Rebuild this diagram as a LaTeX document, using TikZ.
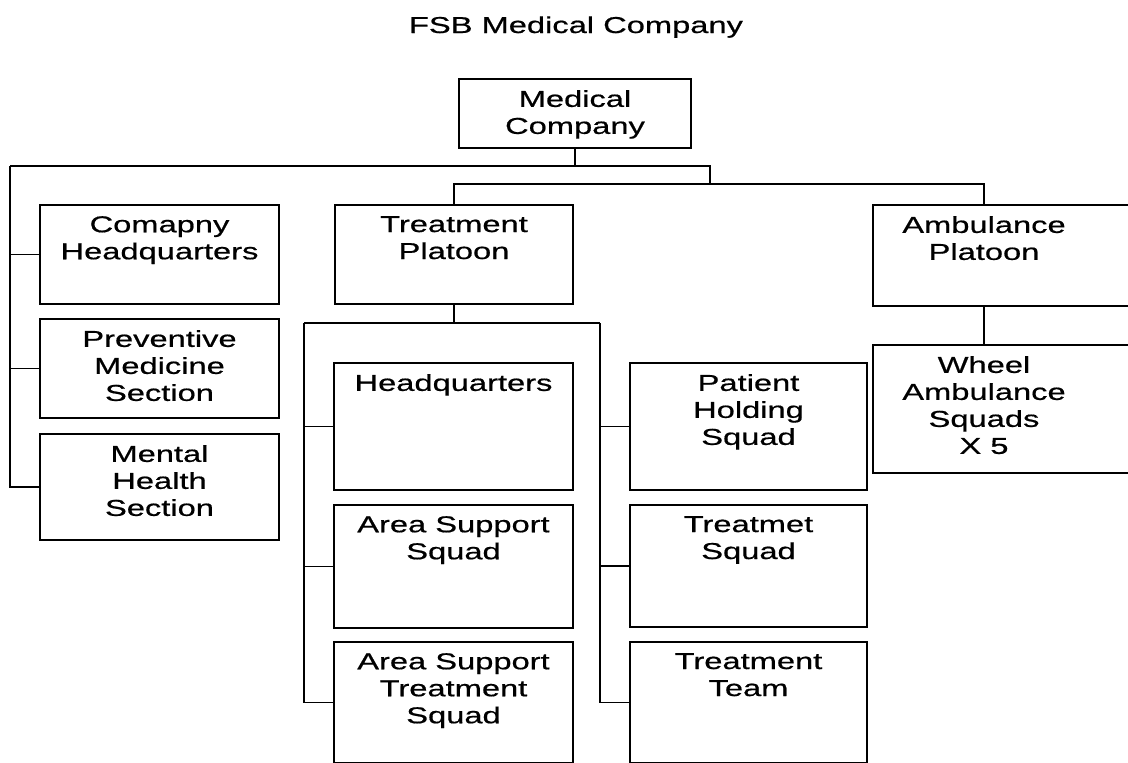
\documentclass[tikz,border=0pt]{standalone}
\usepackage{fontspec}
\setmainfont{Liberation Sans}[FakeStretch=1.42, FakeBold=0.6]
\begin{document}
\begin{tikzpicture}[x=1pt,y=-1pt,
  orgbox/.style={draw=black, line width=2pt, rectangle, inner sep=0pt, anchor=north west},
  orgtext/.style={anchor=north, inner sep=0pt, align=center, font=\fontsize{23}{27}\selectfont},
  link/.style={draw=black, line width=1.6pt}]
\fill[white] (0,0) rectangle (1128,763);
\useasboundingbox (0,0) rectangle (1128,763);

% title
\node[font=\fontsize{23}{27}\selectfont, anchor=base, inner sep=0pt] (title) at (576,33) {FSB Medical Company};

% top level
\node[orgbox, minimum width=232pt, minimum height=69pt] (mc) at (458,78) {};
\node[orgtext] (mc-t) at ([yshift=-12pt]mc.north) {Medical\\Company};

% company sections on the left
\node[orgbox, minimum width=239pt, minimum height=99pt] (chq) at (39,204) {};
\node[orgtext] (chq-t) at ([yshift=-12pt]chq.north) {Comapny\\Headquarters};
\node[orgbox, minimum width=239pt, minimum height=99pt] (pms) at (39,318) {};
\node[orgtext] (pms-t) at ([yshift=-12pt]pms.north) {Preventive\\Medicine\\Section};
\node[orgbox, minimum width=239pt, minimum height=106pt] (mhs) at (39,433) {};
\node[orgtext] (mhs-t) at ([yshift=-12pt]mhs.north) {Mental\\Health\\Section};

% platoons
\node[orgbox, minimum width=238pt, minimum height=99pt] (tp) at (334,204) {};
\node[orgtext] (tp-t) at ([yshift=-12pt]tp.north) {Treatment\\Platoon};
\node[orgbox, minimum width=268pt, minimum height=101pt] (ap) at (872,204) {};
\node[orgbox, minimum width=268pt, minimum height=128pt] (wa) at (872,344) {};
\coordinate (apin) at (984,204);
\coordinate (wain) at (984,344);
\node[orgtext] (ap-t) at ([yshift=-12pt]apin) {Ambulance\\Platoon};
\node[orgtext] (wa-t) at ([yshift=-12pt]wain) {Wheel\\Ambulance\\Squads\\X 5};

% treatment platoon squads
\node[orgbox, minimum width=239pt, minimum height=127pt] (hq) at (333,362) {};
\node[orgtext] (hq-t) at ([yshift=-12pt]hq.north) {Headquarters};
\node[orgbox, minimum width=239pt, minimum height=123pt] (ass) at (333,504) {};
\node[orgtext] (ass-t) at ([yshift=-12pt]ass.north) {Area Support\\Squad};
\node[orgbox, minimum width=239pt, minimum height=121pt] (asts) at (333,641) {};
\node[orgtext] (asts-t) at ([yshift=-12pt]asts.north) {Area Support\\Treatment\\Squad};
\node[orgbox, minimum width=237pt, minimum height=127pt] (phs) at (629,362) {};
\node[orgtext] (phs-t) at ([yshift=-12pt]phs.north) {Patient\\Holding\\Squad};
\node[orgbox, minimum width=237pt, minimum height=122pt] (ts) at (629,504) {};
\node[orgtext] (ts-t) at ([yshift=-12pt]ts.north) {Treatmet\\Squad};
\node[orgbox, minimum width=237pt, minimum height=121pt] (tt) at (629,641) {};
\node[orgtext] (tt-t) at ([yshift=-12pt]tt.north) {Treatment\\Team};

% connector bends
\coordinate (lbus) at (10,166);
\coordinate (rbend) at (710,166);
\coordinate (tbus) at (710,184);
\coordinate (tl) at (304,323);
\coordinate (tr) at (600,323);

% company level connectors
\draw[link] (mc.south) -- (mc.south |- lbus);
\draw[link] (lbus) -- (rbend) -- (tbus);
\draw[link] (lbus) |- (chq.west);
\draw[link] (lbus) |- (pms.west);
\draw[link] (lbus) |- (mhs.west);
\draw[link] (tbus) -| (tp.north);
\draw[link] (tbus) -| (apin);
\draw[link] (ap.south -| apin) -- (wain);

% treatment platoon connectors
\draw[link] (tp.south) -- (tp.south |- tl);
\draw[link] (tl) -- (tr);
\draw[link] (tl) |- (hq.west);
\draw[link] (tl) |- (ass.west);
\draw[link] (tl) |- (asts.west);
\draw[link] (tr) |- (phs.west);
\draw[link] (tr) |- (ts.west);
\draw[link] (tr) |- (tt.west);
\end{tikzpicture}
\end{document}
